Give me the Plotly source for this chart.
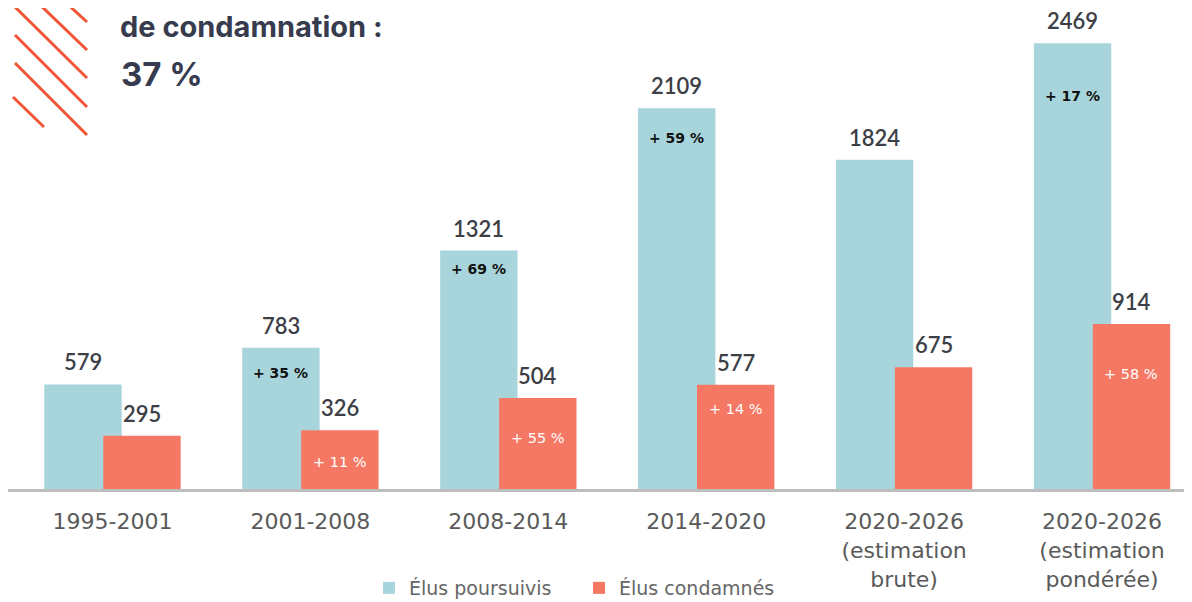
import plotly.graph_objects as go

# ---- data ----
periods = ["1995-2001", "2001-2008", "2008-2014", "2014-2020",
           "2020-2026<br>(estimation<br>brute)", "2020-2026<br>(estimation<br>pondérée)"]
poursuivis = [579, 783, 1321, 2109, 1824, 2469]
condamnes = [295, 326, 504, 577, 675, 914]
evol_poursuivis = [None, "+ 35 %", "+ 69 %", "+ 59 %", None, "+ 17 %"]
evol_condamnes = [None, "+ 11 %", "+ 55 %", "+ 14 %", None, "+ 58 %"]

# ---- styles / layout constants ----
BLUE = "#A8D5DB"
RED = "#F47864"
OX, OY = 8, 8            # page body margin offset
W, H = 1192 - OX, 602 - OY
PLOT_BOTTOM_REF = 489    # reference pixel of baseline
PX_PER_CAT = 197.9
GROUP0_PX = 112.5
OFF = 0.149
BW = 0.391
PX_PER_UNIT = 0.1805
VFONT = "Lato"
TFONT = "DejaVu Sans"

plot_w = W
plot_h = PLOT_BOTTOM_REF - OY
MB = H - plot_h
x0 = (OX - GROUP0_PX) / PX_PER_CAT
x1 = (OX + W - GROUP0_PX) / PX_PER_CAT
ymax = plot_h / PX_PER_UNIT

idx = list(range(len(periods)))
xb = [i - OFF for i in idx]
xr = [i + OFF for i in idx]

fig = go.Figure()
fig.add_trace(go.Bar(x=xb, y=poursuivis, width=BW, marker_color=BLUE,
                     marker_line_width=0, name="Élus poursuivis", hoverinfo="y"))
fig.add_trace(go.Bar(x=xr, y=condamnes, width=BW, marker_color=RED,
                     marker_line_width=0, name="Élus condamnés", hoverinfo="y"))

ann = []
vfont = dict(family=VFONT, size=22, color="#3C4046", weight=600)
for i in idx:
    ann.append(dict(x=xb[i], y=poursuivis[i], text=str(poursuivis[i]), showarrow=False,
                    yanchor="bottom", yshift=7, font=vfont))
    ann.append(dict(x=xr[i], y=condamnes[i], text=str(condamnes[i]), showarrow=False,
                    yanchor="bottom", yshift=7, font=vfont))

blue_pct_off = [0, 25, 18, 30, 0, 53]
red_pct_off = [0, 32, 40, 24, 0, 50]
for i in idx:
    if evol_poursuivis[i]:
        ann.append(dict(x=xb[i], y=poursuivis[i], text=evol_poursuivis[i], showarrow=False,
                        yanchor="middle", yshift=-blue_pct_off[i],
                        font=dict(family=TFONT, size=14, color="#111111", weight=700)))
    if evol_condamnes[i]:
        ann.append(dict(x=xr[i], y=condamnes[i], text=evol_condamnes[i], showarrow=False,
                        yanchor="middle", yshift=-red_pct_off[i],
                        font=dict(family=TFONT, size=14.5, color="#FFFFFF")))

def px2paper(px, py):
    fx, fy = px - OX, py - OY
    return fx / plot_w, (plot_h - fy) / plot_h

# title fragments
tx, ty = px2paper(119, OY)
ann.append(dict(x=tx, y=ty, xref="paper", yref="paper", xanchor="left", yanchor="top",
                text="de condamnation :", showarrow=False, borderpad=0,
                font=dict(family="Inter", size=29, color="#363B4E", weight=700)))
tx, ty = px2paper(119, 74)
ann.append(dict(x=tx, y=ty, xref="paper", yref="paper", xanchor="left", yanchor="middle",
                text="37 %", showarrow=False,
                font=dict(family="Inter", size=33, color="#363B4E", weight=700)))

# decorative stripes
stripes = [((63, 0), (87, 22)), ((35, 0), (87, 50)), ((15, 7), (87, 78)),
           ((15, 35), (87, 107)), ((15, 63), (87, 135)), ((13, 97), (44, 127))]
shapes = []
for (a, b) in stripes:
    xa, ya = px2paper(*a)
    xbb, yb = px2paper(*b)
    shapes.append(dict(type="line", xref="paper", yref="paper", x0=xa, y0=ya, x1=xbb, y1=yb,
                       line=dict(color="#F05536", width=3)))

lx, ly = px2paper(369, 588)
fig.update_layout(
    width=W, height=H,
    margin=dict(l=0, r=0, t=0, b=MB, autoexpand=False),
    paper_bgcolor="white", plot_bgcolor="white",
    barmode="overlay",
    showlegend=True,
    legend=dict(orientation="h", x=lx, y=ly, xanchor="left", yanchor="middle",
                font=dict(family=TFONT, size=19, color="#666666"),
                entrywidth=165, entrywidthmode="pixels", itemclick=False),
    annotations=ann,
    shapes=shapes,
    xaxis=dict(range=[x0, x1], tickvals=idx, ticktext=periods, showgrid=False,
               zeroline=False, showline=True, linecolor="#BDBDBD", linewidth=3,
               ticks="outside", ticklen=11, tickcolor="rgba(0,0,0,0)",
               tickfont=dict(family=TFONT, size=22, color="#5A5A5A"), fixedrange=True),
    yaxis=dict(range=[0, ymax], visible=False, showgrid=False, zeroline=False, fixedrange=True),
)

fig.write_html("out.html")
